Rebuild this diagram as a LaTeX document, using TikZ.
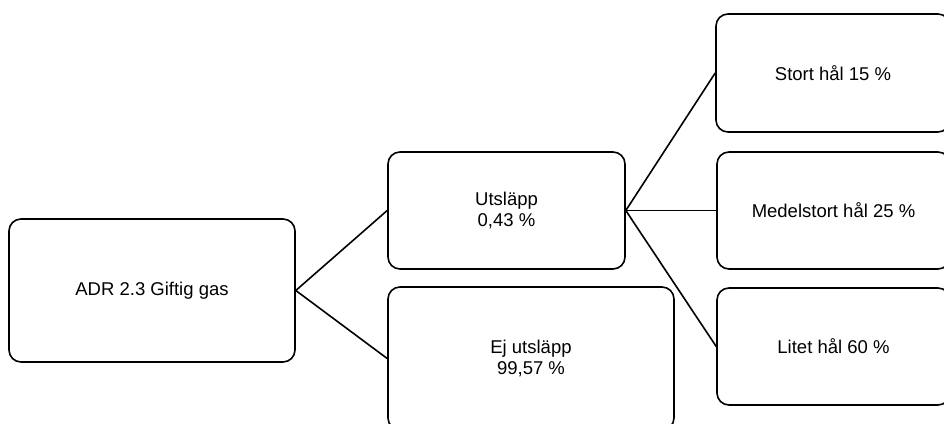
\documentclass[tikz,border=0pt]{standalone}
\usepackage{fontspec}
\setmainfont{Liberation Sans}
\begin{document}
\begin{tikzpicture}[x=1pt,y=1pt,
  box/.style={draw=black, line width=1.6pt, rounded corners=12pt, align=center,
    font=\fontsize{18.5}{21}\selectfont, inner sep=0pt},
  conn/.style={draw=black, line width=1.6pt}]
\useasboundingbox (0,0) rectangle (944,-423);
\clip (0,0) rectangle (944,-423);
\node[box, minimum width=286pt, minimum height=143pt] (A) at (152,-290.5) {ADR 2.3 Giftig gas};
\node[box, minimum width=237pt, minimum height=117pt] (B) at (506.5,-210.5) {Utsläpp\\0,43 \%};
\node[box, minimum width=286pt, minimum height=143pt] (C) at (531,-358.5) {Ej utsläpp\\99,57 \%};
\node[box, minimum width=234pt, minimum height=118pt] (D) at (833,-73) {Stort hål 15 \%};
\node[box, minimum width=233pt, minimum height=117pt] (E) at (833.5,-210.5) {Medelstort hål 25 \%};
\node[box, minimum width=233pt, minimum height=117pt] (F) at (833.5,-346.5) {Litet hål 60 \%};
\draw[conn] (A.east) -- (B.west);
\draw[conn] (A.east) -- (C.west);
\draw[conn] (B.east) -- (D.west);
\draw[conn] (B.east) -- (E.west);
\draw[conn] (B.east) -- (F.west);
\end{tikzpicture}
\end{document}
